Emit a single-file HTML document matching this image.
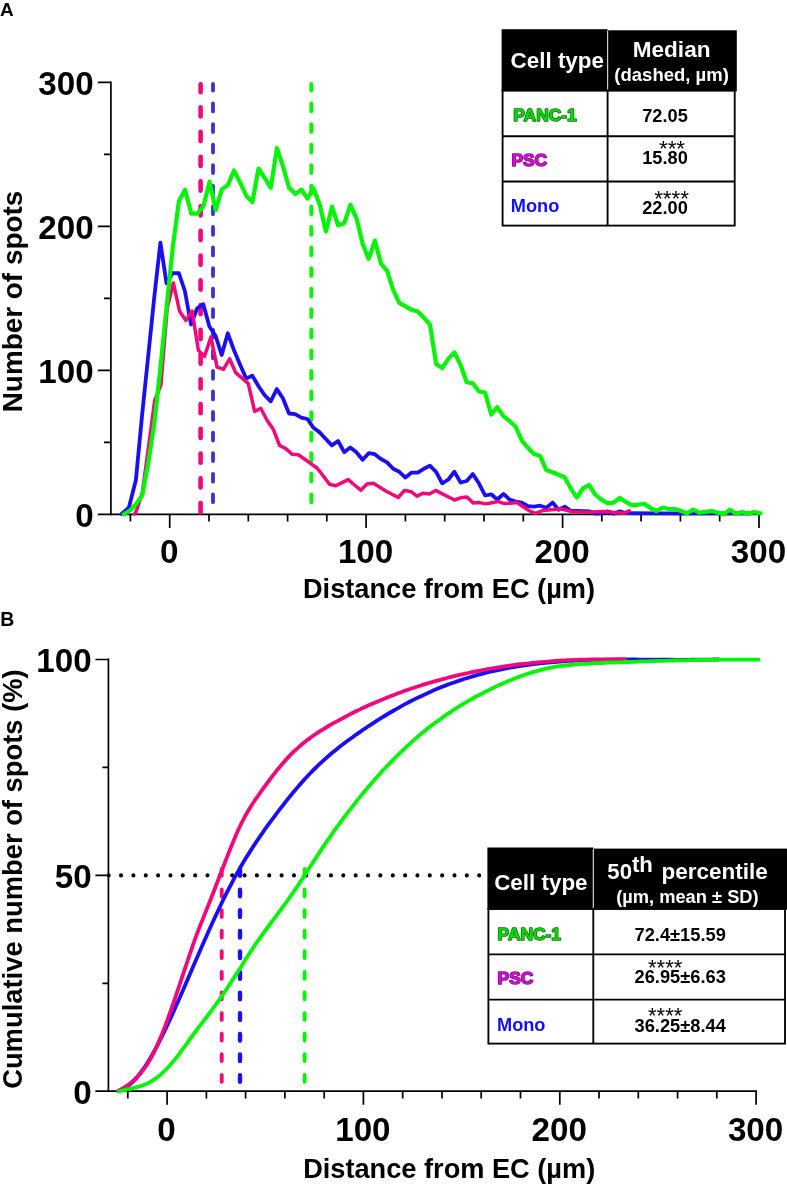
<!DOCTYPE html>
<html><head><meta charset="utf-8"><title>Figure</title>
<style>html,body{margin:0;padding:0;background:#fff}svg{display:block}text{font-family:"Liberation Sans",sans-serif;font-weight:bold;fill:#000}.r{font-weight:normal}</style></head><body>
<svg width="787" height="1185" viewBox="0 0 787 1185" style="filter:opacity(0.9999)">
<rect width="787" height="1185" fill="#fff"/>
<text x="0" y="16" font-size="19">A</text>
<g stroke="#000" stroke-width="1.7" fill="none" stroke-linecap="butt">
<path d="M110.9 81.5 V515.2"/>
<path d="M97.8 514.4 H759.8"/>
<path d="M97.8 370.4 H110.9M97.8 226.3 H110.9M97.8 82.3 H110.9M104.0 442.4 H110.9M104.0 298.4 H110.9M104.0 154.3 H110.9M169.7 514.4 V528M366.1 514.4 V528M562.6 514.4 V528M759 514.4 V528M130.4 514.4 V521.6M209 514.4 V521.6M248.3 514.4 V521.6M287.6 514.4 V521.6M326.8 514.4 V521.6M405.4 514.4 V521.6M444.7 514.4 V521.6M484 514.4 V521.6M523.3 514.4 V521.6M601.8 514.4 V521.6M641.1 514.4 V521.6M680.4 514.4 V521.6M719.7 514.4 V521.6"/>
</g>
<text x="93.7" y="526.9" font-size="33.2" text-anchor="end">0</text>
<text x="93.7" y="382.9" font-size="33.2" text-anchor="end">100</text>
<text x="93.7" y="238.8" font-size="33.2" text-anchor="end">200</text>
<text x="93.7" y="94.8" font-size="33.2" text-anchor="end">300</text>
<text x="169.2" y="562.9" font-size="33.2" text-anchor="middle">0</text>
<text x="365.6" y="562.9" font-size="33.2" text-anchor="middle">100</text>
<text x="562.1" y="562.9" font-size="33.2" text-anchor="middle">200</text>
<text x="758.5" y="562.9" font-size="33.2" text-anchor="middle">300</text>
<text x="449" y="598.3" font-size="27.2" text-anchor="middle">Distance from EC (µm)</text>
<text transform="translate(22.0 301.5) rotate(-90)" font-size="27.9" text-anchor="middle">Number of spots</text>
<path d="M200.6 84.3 V92.2M200.6 107.2 V116.4M200.6 131.9 V141.1M200.6 156.7 V165.9M200.6 181.4 V190.6M200.6 206.2 V215.4M200.6 230.9 V240.1M200.6 255.6 V264.8M200.6 280.4 V289.6M200.6 305.1 V314.3M200.6 329.9 V339.1M200.6 354.6 V363.8M200.6 379.3 V388.5M200.6 404.1 V413.3M200.6 428.8 V438M200.6 453.6 V462.8M200.6 478.3 V487.5M200.6 503 V512.2" stroke="#f2087a" stroke-width="4.6" stroke-linecap="round" fill="none"/>
<path d="M213 83.9 V90.6M213 103.5 V111.4M213 124.1 V132M213 144.6 V152.5M213 165.2 V173.1M213 185.8 V193.7M213 206.3 V214.2M213 226.9 V234.8M213 247.5 V255.4M213 268.1 V276M213 288.6 V296.5M213 309.2 V317.1M213 329.8 V337.7M213 350.3 V358.2M213 370.9 V378.8M213 391.5 V399.4M213 412 V419.9M213 432.6 V440.5M213 453.2 V461.1M213 473.8 V481.7M213 494.3 V502.2" stroke="#3a32cc" stroke-width="3.8" stroke-linecap="round" fill="none"/>
<path d="M311.3 84 V90.5M311.3 103.5 V111.3M311.3 124.1 V131.9M311.3 144.7 V152.5M311.3 165.3 V173.1M311.3 185.8 V193.6M311.3 206.4 V214.2M311.3 227 V234.8M311.3 247.5 V255.3M311.3 268.1 V275.9M311.3 288.7 V296.5M311.3 309.2 V317M311.3 329.8 V337.6M311.3 350.4 V358.2M311.3 371 V378.8M311.3 391.5 V399.3M311.3 412.1 V419.9M311.3 432.7 V440.5M311.3 453.2 V461M311.3 473.8 V481.6M311.3 494.4 V502.2" stroke="#06f506" stroke-width="3.9" stroke-linecap="round" fill="none"/>
<g fill="none" stroke-linejoin="round" stroke-linecap="round">
<path d="M121.6 513.9 L128.9 507.5 L135.9 480 L142 416 L148.1 357 L154.3 297 L160.4 242.6 L166.5 283.3 L172.6 273.1 L178.8 273.1 L184.9 291 L191 324.5 L197.2 308.3 L203.3 304.2 L209.4 326.5 L215.5 335.7 L221.7 355 L227.8 333.3 L233.9 350 L240 364.4 L246.2 378.6 L252.3 375.6 L258.4 386 L264.5 395 L270.7 401.3 L276.8 389.1 L282.9 398.3 L289 413.5 L295.2 414.1 L301.3 417.6 L307.4 419 L313.5 427.8 L319.7 432.4 L325.8 439 L331.9 445.4 L338.1 441 L344.2 452.2 L350.3 447.5 L356.4 452.2 L362.6 459.7 L368.7 453.2 L374.8 454.2 L380.9 459 L387.1 462.4 L393.2 468.8 L399.3 471.8 L405.4 477.6 L411.6 472.6 L417.7 472.6 L423.8 468.8 L429.9 465.7 L436.1 471.8 L442.2 483.3 L448.3 479.5 L454.4 471.8 L460.6 482.5 L466.7 481 L472.8 474.1 L478.9 483.3 L485.1 495.5 L491.2 494.3 L497.3 499.5 L503.5 493.9 L509.6 499.6 L515.7 501.6 L521.8 502.6 L528 506.1 L534.1 506.7 L540.2 505.7 L546.3 507.7 L552.5 502.6 L558.6 509.8 L564.7 506.7 L570.8 510.8 L577 511 L583.1 511.2 L589.2 511.4 L595.3 513.6 L601.5 513.3 L607.6 511.4 L613.7 513.6 L619.8 511.4 L626 513.2 L660 513.3 L700 513.3 L750 513.3" stroke="#1a0ef2" stroke-width="3.8"/>
<path d="M134.6 514 L135.9 512 L142.2 493.5 L148.4 448 L154.7 400.5 L160.9 385 L167.2 308 L173.4 283 L179.6 311.3 L185.9 320.4 L192.1 311 L198.4 350.5 L204.6 356.2 L210.9 337 L217.1 367.2 L223.4 369.3 L229.6 358.8 L235.8 372.9 L242.1 378.2 L248.3 383.6 L254.6 411.3 L260.8 408.3 L267.1 420.5 L273.3 429.3 L279.6 445.5 L285.8 448.6 L292.1 454.2 L298.3 454.7 L304.5 459 L310.8 463.6 L317 468 L323.3 476 L329.5 484.3 L335.8 485.7 L342 482.6 L348.3 479.6 L354.5 485 L360.8 490.2 L367 484.1 L373.2 483.3 L379.5 487 L385.7 491 L392 494.3 L398.2 497.5 L404.5 490.4 L410.7 491.4 L417 496.2 L423.2 493.2 L429.4 494 L435.7 490.4 L441.9 493.6 L448.2 496.8 L454.4 500 L460.7 497.8 L466.9 497 L473.2 503.1 L479.4 502.6 L485.6 503.9 L491.9 502.7 L498.1 501.6 L504.4 503.6 L510.6 503.2 L516.9 502.6 L523.1 506.7 L529.4 510.8 L535.6 513.3 L541.9 510.8 L548.1 510.1 L554.3 509.4 L560.6 508.7 L566.8 510.2 L573.1 511.8 L579.3 512 L585.6 512.2 L591.8 512.1 L598.1 511.8 L604.3 511.4 L610.5 512 L616.8 512.7 L623 513.3 L629.3 510.8" stroke="#f2087a" stroke-width="3.5"/>
<path d="M123.8 514.3 L130 510.5 L136.1 504 L142.2 495.5 L148.3 463 L154.5 422 L160.6 366 L166.7 306 L172.8 247 L178.9 201 L185.1 189.8 L191.2 213.6 L197.3 213.6 L203.4 206 L209.6 181.7 L215.7 210.1 L221.8 189.4 L227.9 185.1 L234 170.5 L240.2 182.7 L246.3 195.9 L252.4 202 L258.5 168.5 L264.7 178 L270.8 187.8 L276.9 148.1 L283 166.4 L289.1 187.8 L295.3 193.9 L301.4 189.8 L307.5 198.5 L313.6 188.4 L319.8 205 L325.9 231.5 L332 206.7 L338.1 225.4 L344.2 223.3 L350.4 205 L356.5 218.3 L362.6 243.7 L368.7 258.9 L374.9 240.6 L381 263.7 L387.1 270.8 L393.2 290.1 L399.3 302.9 L405.5 306.4 L411.6 309.8 L417.7 311.5 L423.8 317.6 L430 324.7 L436.1 364 L442.2 368.1 L448.3 358.9 L454.4 352.4 L460.6 365 L466.7 382.3 L472.8 383.3 L478.9 391.5 L485 392.5 L491.2 414.5 L497.3 407.2 L503.4 416.1 L509.5 421 L515.7 426.8 L521.8 440.7 L527.9 447.8 L534 453.9 L540.1 455.9 L546.3 470.1 L552.4 472.2 L558.5 474.7 L564.6 477.2 L570.8 488.5 L576.9 497.6 L583 488.4 L589.1 485 L595.2 494.5 L601.4 499.6 L607.5 503.3 L613.6 502.6 L619.7 498 L625.9 502 L632 505.3 L638.1 504.7 L644.2 503.7 L650.3 508 L656.5 511.1 L662.6 507.5 L668.7 509 L674.8 509 L681 511 L687.1 513.2 L693.2 509.6 L699.3 512.6 L705.4 511.8 L711.6 511.1 L717.7 512.8 L723.8 514.4 L729.9 509.6 L736.1 514 L742.2 512.1 L748.3 513.6 L754.4 512.1 L760.5 513.4" stroke="#06f506" stroke-width="4.2"/>
</g>
<rect x="501.6" y="29.2" width="106" height="62.2" fill="#000"/>
<rect x="607.6" y="30.3" width="129.2" height="61.1" fill="#000"/>
<path d="M607.6 30.8 V90.4" stroke="#cfcfcf" stroke-width="1.2"/>
<g stroke="#000" stroke-width="1.85" fill="none">
<rect x="502.6" y="90.4" width="232.1" height="135.2"/>
<path d="M607.6 90.4 V225.6 M502.6 136.2 H734.7 M502.6 181.5 H734.7"/>
</g>
<g fill="#fff">
<text x="510.6" y="67.8" font-size="22.4" style="fill:#fff">Cell type</text>
<text x="671.6" y="57.1" font-size="22.6" text-anchor="middle" style="fill:#fff">Median</text>
<text x="671.6" y="80.8" font-size="18.5" text-anchor="middle" style="fill:#fff">(dashed, µm)</text>
</g>
<text x="513.3" y="121.3" font-size="17.4" style="fill:#08dc08;stroke:#0a6a0a;stroke-width:1.5;stroke-linejoin:round;paint-order:stroke">PANC-1</text>
<text x="511.4" y="166" font-size="17.4" style="fill:#dc08dc;stroke:#701070;stroke-width:1.5;stroke-linejoin:round;paint-order:stroke">PSC</text>
<text x="510.8" y="212.0" font-size="18.2" style="fill:#1010ff">Mono</text>
<text x="665" y="121.6" font-size="18.2" text-anchor="middle">72.05</text>
<text x="665" y="164.3" font-size="18.2" text-anchor="middle">15.80</text>
<text x="665" y="214.2" font-size="18.2" text-anchor="middle">22.00</text>
<text class="r" x="672.0" y="156.3" font-size="22.4" text-anchor="middle">***</text>
<text class="r" x="671.6" y="205.6" font-size="22.4" text-anchor="middle">****</text>
<text x="0.2" y="626" font-size="19.5">B</text>
<g stroke="#000" stroke-width="1.7" fill="none">
<path d="M108.4 658.6 V1092"/>
<path d="M95.4 1091.2 H756.9"/>
<path d="M95.4 875.4 H108.4M95.4 659.5 H108.4M102.4 983.3 H108.4M102.4 767.4 H108.4M167.1 1091.2 V1104.8M363.4 1091.2 V1104.8M559.8 1091.2 V1104.8M756.1 1091.2 V1104.8M127.8 1091.2 V1098.4M206.4 1091.2 V1098.4M245.6 1091.2 V1098.4M284.9 1091.2 V1098.4M324.2 1091.2 V1098.4M402.7 1091.2 V1098.4M442 1091.2 V1098.4M481.2 1091.2 V1098.4M520.5 1091.2 V1098.4M599 1091.2 V1098.4M638.3 1091.2 V1098.4M677.6 1091.2 V1098.4M716.8 1091.2 V1098.4"/>
</g>
<text x="91.6" y="1103.7" font-size="33.2" text-anchor="end">0</text>
<text x="91.6" y="887.9" font-size="33.2" text-anchor="end">50</text>
<text x="91.6" y="672" font-size="33.2" text-anchor="end">100</text>
<text x="166.6" y="1140.6" font-size="33.2" text-anchor="middle">0</text>
<text x="362.9" y="1140.6" font-size="33.2" text-anchor="middle">100</text>
<text x="559.3" y="1140.6" font-size="33.2" text-anchor="middle">200</text>
<text x="755.6" y="1140.6" font-size="33.2" text-anchor="middle">300</text>
<text x="449.2" y="1177.6" font-size="27.2" text-anchor="middle">Distance from EC (µm)</text>
<text transform="translate(22.1 879.1) rotate(-90)" font-size="27.36" text-anchor="middle">Cumulative number of spots (%)</text>
<path d="M108.7 875.4 H482" stroke="#000" stroke-width="4.1" stroke-linecap="round" stroke-dasharray="0 12.35" fill="none"/>
<path d="M221.7 868.9 V875.7M221.7 889.5 V896.3M221.7 910.1 V916.9M221.7 930.6 V937.5M221.7 951.2 V958.1M221.7 971.9 V978.7M221.7 992.5 V999.3M221.7 1013.1 V1019.9M221.7 1033.7 V1040.5M221.7 1054.2 V1061.1M221.7 1074.9 V1081.8" stroke="#f2087a" stroke-width="3.9" stroke-linecap="round" fill="none"/>
<path d="M240 869.1 V875.7M240 889.7 V896.3M240 910.3 V916.9M240 930.9 V937.5M240 951.5 V958.1M240 972.1 V978.7M240 992.7 V999.3M240 1013.3 V1019.9M240 1033.9 V1040.5M240 1054.5 V1061.1M240 1075.1 V1081.7" stroke="#1a0ef2" stroke-width="4.4" stroke-linecap="round" fill="none"/>
<path d="M304.6 868.9 V875.7M304.6 889.5 V896.3M304.6 910.1 V916.9M304.6 930.6 V937.5M304.6 951.2 V958.1M304.6 971.9 V978.7M304.6 992.5 V999.3M304.6 1013.1 V1019.9M304.6 1033.7 V1040.5M304.6 1054.2 V1061.1M304.6 1074.9 V1081.8" stroke="#06f506" stroke-width="3.9" stroke-linecap="round" fill="none"/>
<g fill="none" stroke-linejoin="round" stroke-linecap="round" stroke-width="3.8">
<path d="M118.3 1091 C119.3 1090.6 122.3 1089.6 124.3 1088.5 C126.3 1087.3 128.3 1085.9 130.3 1084.1 C132.3 1082.4 134.3 1080.3 136.3 1078.1 C138.3 1075.8 140.3 1073.2 142.3 1070.4 C144.3 1067.7 146.3 1064.6 148.3 1061.4 C150.3 1058.2 152.3 1054.7 154.3 1051.1 C156.3 1047.4 158.3 1043.6 160.3 1039.6 C162.4 1035.6 164.4 1031.5 166.4 1027.3 C168.4 1023 170.4 1018.6 172.4 1014.2 C174.4 1009.8 176.4 1005.2 178.4 1000.7 C180.4 996.1 182.4 991.5 184.4 986.9 C186.4 982.3 188.4 977.6 190.4 973 C192.4 968.3 194.4 963.7 196.4 959.1 C198.4 954.5 200.4 949.8 202.4 945.3 C204.4 940.7 206.4 936.2 208.4 931.7 C210.4 927.3 212.4 922.8 214.4 918.5 C216.4 914.2 218.4 909.9 220.4 905.7 C222.4 901.5 224.4 897.4 226.4 893.4 C228.4 889.5 230.4 885.6 232.4 881.8 C234.4 878.1 236.4 874.4 238.4 870.9 C240.4 867.4 242.4 863.9 244.4 860.6 C246.4 857.2 248.5 854 250.5 850.9 C252.5 847.7 254.5 844.6 256.5 841.6 C258.5 838.6 260.5 835.7 262.5 832.8 C264.5 829.9 266.5 827.1 268.5 824.4 C270.5 821.6 272.5 818.9 274.5 816.3 C276.5 813.6 278.5 811 280.5 808.4 C282.5 805.8 284.5 803.3 286.5 800.7 C288.5 798.2 290.5 795.8 292.5 793.3 C294.5 790.9 296.5 788.5 298.5 786.2 C300.5 783.9 302.5 781.6 304.5 779.4 C306.5 777.2 308.5 775.1 310.5 773 C312.5 770.9 314.5 768.9 316.5 767 C318.5 765 320.5 763.1 322.5 761.3 C324.5 759.5 326.5 757.7 328.5 756 C330.5 754.2 332.5 752.6 334.6 750.9 C336.6 749.3 338.6 747.7 340.6 746.1 C342.6 744.6 344.6 743.1 346.6 741.6 C348.6 740.1 350.6 738.6 352.6 737.2 C354.6 735.8 356.6 734.3 358.6 732.9 C360.6 731.5 362.6 730.2 364.6 728.8 C366.6 727.5 368.6 726.1 370.6 724.8 C372.6 723.5 374.6 722.2 376.6 720.9 C378.6 719.6 380.6 718.4 382.6 717.2 C384.6 715.9 386.6 714.7 388.6 713.5 C390.6 712.3 392.6 711.2 394.6 710 C396.6 708.9 398.6 707.7 400.6 706.6 C402.6 705.5 404.6 704.4 406.6 703.4 C408.6 702.3 410.6 701.3 412.6 700.3 C414.6 699.2 416.6 698.2 418.7 697.3 C420.7 696.3 422.7 695.3 424.7 694.4 C426.7 693.5 428.7 692.6 430.7 691.7 C432.7 690.8 434.7 689.9 436.7 689.1 C438.7 688.3 440.7 687.4 442.7 686.6 C444.7 685.9 446.7 685.1 448.7 684.3 C450.7 683.6 452.7 682.9 454.7 682.2 C456.7 681.5 458.7 680.8 460.7 680.1 C462.7 679.4 464.7 678.8 466.7 678.2 C468.7 677.6 470.7 677 472.7 676.4 C474.7 675.8 476.7 675.2 478.7 674.7 C480.7 674.2 482.7 673.6 484.7 673.1 C486.7 672.6 488.7 672.1 490.7 671.7 C492.7 671.2 494.7 670.7 496.7 670.3 C498.7 669.9 500.7 669.5 502.7 669.1 C504.8 668.7 506.8 668.3 508.8 667.9 C510.8 667.5 512.8 667.2 514.8 666.8 C516.8 666.5 518.8 666.2 520.8 665.9 C522.8 665.6 524.8 665.3 526.8 665 C528.8 664.7 530.8 664.5 532.8 664.2 C534.8 663.9 536.8 663.7 538.8 663.5 C540.8 663.3 542.8 663 544.8 662.8 C546.8 662.6 548.8 662.4 550.8 662.3 C552.8 662.1 554.8 661.9 556.8 661.8 C558.8 661.6 560.8 661.4 562.8 661.3 C564.8 661.2 566.8 661 568.8 660.9 C570.8 660.8 572.8 660.7 574.8 660.6 C576.8 660.5 578.8 660.4 580.8 660.3 C582.8 660.2 584.8 660.2 586.8 660.1 C588.8 660 590.9 660 592.9 659.9 C594.9 659.9 596.9 659.8 598.9 659.8 C600.9 659.7 602.9 659.7 604.9 659.7 C606.9 659.6 608.9 659.6 610.9 659.6 C612.9 659.6 614.9 659.5 616.9 659.5 C618.9 659.5 620.9 659.5 622.9 659.5 C624.9 659.5 626.9 659.5 628.9 659.5 C630.9 659.5 632.9 659.5 634.9 659.5 C636.9 659.5 638.9 659.5 640.9 659.6 C642.9 659.6 644.9 659.6 646.9 659.6 C648.9 659.6 650.9 659.6 652.9 659.6 C654.9 659.6 656.9 659.7 658.9 659.7 C660.9 659.7 662.9 659.7 664.9 659.7 C666.9 659.7 668.9 659.7 670.9 659.7 C672.9 659.8 674.9 659.8 677 659.8 C679 659.8 681 659.8 683 659.8 C685 659.8 687 659.8 689 659.8 C691 659.8 693 659.7 695 659.7 C697 659.7 699 659.7 701 659.7 C703 659.6 705 659.6 707 659.6 C709 659.5 711 659.5 713 659.5 C715 659.4 718 659.3 719 659.3" stroke="#1a0ef2"/>
<path d="M118.3 1091 C119.3 1090.4 122.3 1088.7 124.3 1087.4 C126.3 1086.1 128.4 1084.8 130.4 1083.2 C132.4 1081.6 134.4 1079.8 136.4 1077.8 C138.4 1075.8 140.4 1073.5 142.4 1070.9 C144.4 1068.3 146.4 1065.5 148.5 1062.2 C150.5 1058.9 152.5 1055.2 154.5 1051.1 C156.5 1047 158.5 1042.5 160.5 1037.7 C162.5 1032.9 164.5 1027.7 166.6 1022.3 C168.6 1016.9 170.6 1011.2 172.6 1005.5 C174.6 999.7 176.6 993.7 178.6 987.7 C180.6 981.7 182.6 975.5 184.7 969.5 C186.7 963.5 188.7 957.4 190.7 951.6 C192.7 945.8 194.7 940.1 196.7 934.7 C198.7 929.3 200.7 924.2 202.8 919.1 C204.8 914 206.8 909.1 208.8 904.1 C210.8 899 212.8 894 214.8 888.8 C216.8 883.6 218.8 878.3 220.8 873.1 C222.9 867.9 224.9 862.6 226.9 857.4 C228.9 852.3 230.9 847.2 232.9 842.4 C234.9 837.5 236.9 832.8 238.9 828.5 C241 824.1 243 820.1 245 816.3 C247 812.6 249 809.4 251 806.2 C253 803 255 800.2 257 797.3 C259.1 794.3 261.1 791.5 263.1 788.7 C265.1 785.9 267.1 783.2 269.1 780.5 C271.1 777.8 273.1 775.2 275.1 772.6 C277.1 770.1 279.2 767.6 281.2 765.3 C283.2 762.9 285.2 760.6 287.2 758.4 C289.2 756.3 291.2 754.2 293.2 752.2 C295.2 750.3 297.3 748.4 299.3 746.6 C301.3 744.9 303.3 743.2 305.3 741.6 C307.3 740 309.3 738.5 311.3 737.1 C313.3 735.6 315.3 734.3 317.4 732.9 C319.4 731.6 321.4 730.3 323.4 729.1 C325.4 727.9 327.4 726.7 329.4 725.5 C331.4 724.4 333.4 723.2 335.5 722.1 C337.5 721 339.5 719.9 341.5 718.8 C343.5 717.7 345.5 716.7 347.5 715.6 C349.5 714.6 351.5 713.5 353.6 712.5 C355.6 711.5 357.6 710.6 359.6 709.6 C361.6 708.6 363.6 707.7 365.6 706.8 C367.6 705.8 369.6 704.9 371.6 704 C373.7 703.2 375.7 702.3 377.7 701.4 C379.7 700.6 381.7 699.7 383.7 698.9 C385.7 698.1 387.7 697.3 389.7 696.5 C391.8 695.7 393.8 694.9 395.8 694.2 C397.8 693.4 399.8 692.7 401.8 692 C403.8 691.2 405.8 690.5 407.8 689.8 C409.9 689.1 411.9 688.4 413.9 687.8 C415.9 687.1 417.9 686.5 419.9 685.8 C421.9 685.2 423.9 684.6 425.9 683.9 C427.9 683.3 430 682.7 432 682.1 C434 681.6 436 681 438 680.4 C440 679.9 442 679.3 444 678.8 C446 678.3 448.1 677.7 450.1 677.2 C452.1 676.7 454.1 676.2 456.1 675.7 C458.1 675.3 460.1 674.8 462.1 674.3 C464.1 673.9 466.2 673.4 468.2 673 C470.2 672.5 472.2 672.1 474.2 671.7 C476.2 671.3 478.2 670.9 480.2 670.5 C482.2 670.1 484.2 669.7 486.3 669.4 C488.3 669 490.3 668.7 492.3 668.3 C494.3 668 496.3 667.6 498.3 667.3 C500.3 667 502.3 666.7 504.4 666.4 C506.4 666.1 508.4 665.8 510.4 665.5 C512.4 665.2 514.4 665 516.4 664.7 C518.4 664.4 520.4 664.2 522.5 664 C524.5 663.7 526.5 663.5 528.5 663.3 C530.5 663.1 532.5 662.8 534.5 662.7 C536.5 662.5 538.5 662.3 540.5 662.1 C542.6 661.9 544.6 661.7 546.6 661.6 C548.6 661.4 550.6 661.3 552.6 661.1 C554.6 661 556.6 660.8 558.6 660.7 C560.7 660.6 562.7 660.5 564.7 660.4 C566.7 660.3 568.7 660.2 570.7 660.1 C572.7 660 574.7 659.9 576.7 659.8 C578.8 659.7 580.8 659.7 582.8 659.6 C584.8 659.6 586.8 659.5 588.8 659.5 C590.8 659.4 592.8 659.4 594.8 659.4 C596.8 659.3 598.9 659.3 600.9 659.3 C602.9 659.3 604.9 659.3 606.9 659.3 C608.9 659.3 610.9 659.3 612.9 659.3 C614.9 659.3 617 659.4 619 659.4 C621 659.4 624 659.5 625 659.5" stroke="#f2087a"/>
<path d="M119 1091.3 C120 1091.1 123 1090.4 125 1089.9 C127 1089.5 129.1 1089.1 131.1 1088.6 C133.1 1088.2 135.1 1087.7 137.1 1087.2 C139.1 1086.6 141.1 1086 143.1 1085.3 C145.1 1084.5 147.2 1083.6 149.2 1082.6 C151.2 1081.5 153.2 1080.3 155.2 1078.9 C157.2 1077.5 159.2 1075.9 161.2 1074.1 C163.2 1072.3 165.3 1070.3 167.3 1068.2 C169.3 1066.1 171.3 1063.8 173.3 1061.4 C175.3 1059 177.3 1056.4 179.3 1053.8 C181.3 1051.1 183.4 1048.3 185.4 1045.6 C187.4 1042.8 189.4 1040 191.4 1037.2 C193.4 1034.4 195.4 1031.7 197.4 1029 C199.4 1026.3 201.5 1023.7 203.5 1021.1 C205.5 1018.5 207.5 1015.9 209.5 1013.2 C211.5 1010.5 213.5 1007.8 215.5 1005 C217.5 1002.2 219.6 999.4 221.6 996.4 C223.6 993.5 225.6 990.6 227.6 987.5 C229.6 984.5 231.6 981.4 233.6 978.3 C235.6 975.2 237.6 972 239.7 968.9 C241.7 965.7 243.7 962.4 245.7 959.3 C247.7 956.1 249.7 953 251.7 950 C253.7 947 255.7 944 257.8 941.1 C259.8 938.3 261.8 935.5 263.8 932.7 C265.8 929.9 267.8 927.2 269.8 924.5 C271.8 921.8 273.8 919.1 275.9 916.4 C277.9 913.7 279.9 911 281.9 908.2 C283.9 905.5 285.9 902.8 287.9 900 C289.9 897.1 291.9 894.3 294 891.4 C296 888.4 298 885.4 300 882.4 C302 879.4 304 876.3 306 873.2 C308 870.1 310 866.9 312.1 863.8 C314.1 860.7 316.1 857.6 318.1 854.5 C320.1 851.4 322.1 848.4 324.1 845.4 C326.1 842.4 328.1 839.5 330.2 836.6 C332.2 833.7 334.2 830.8 336.2 828.1 C338.2 825.3 340.2 822.5 342.2 819.8 C344.2 817.1 346.2 814.5 348.3 811.8 C350.3 809.2 352.3 806.6 354.3 804.1 C356.3 801.5 358.3 799 360.3 796.6 C362.3 794.1 364.3 791.7 366.4 789.3 C368.4 786.9 370.4 784.6 372.4 782.2 C374.4 779.9 376.4 777.7 378.4 775.4 C380.4 773.2 382.4 771 384.5 768.8 C386.5 766.7 388.5 764.6 390.5 762.5 C392.5 760.4 394.5 758.4 396.5 756.4 C398.5 754.4 400.5 752.4 402.6 750.5 C404.6 748.6 406.6 746.7 408.6 744.8 C410.6 743 412.6 741.2 414.6 739.4 C416.6 737.7 418.6 735.9 420.7 734.3 C422.7 732.6 424.7 730.9 426.7 729.3 C428.7 727.7 430.7 726.1 432.7 724.6 C434.7 723.1 436.7 721.6 438.8 720.1 C440.8 718.7 442.8 717.2 444.8 715.8 C446.8 714.4 448.8 713.1 450.8 711.8 C452.8 710.4 454.8 709.1 456.8 707.9 C458.9 706.6 460.9 705.4 462.9 704.2 C464.9 703 466.9 701.8 468.9 700.6 C470.9 699.5 472.9 698.3 474.9 697.2 C477 696.1 479 695.1 481 694 C483 693 485 691.9 487 690.9 C489 689.9 491 688.9 493 688 C495.1 687 497.1 686.1 499.1 685.1 C501.1 684.2 503.1 683.3 505.1 682.4 C507.1 681.6 509.1 680.7 511.1 679.9 C513.2 679 515.2 678.2 517.2 677.5 C519.2 676.7 521.2 676 523.2 675.2 C525.2 674.5 527.2 673.8 529.2 673.2 C531.3 672.6 533.3 671.9 535.3 671.4 C537.3 670.8 539.3 670.3 541.3 669.8 C543.3 669.3 545.3 668.8 547.3 668.4 C549.4 668 551.4 667.6 553.4 667.2 C555.4 666.9 557.4 666.5 559.4 666.2 C561.4 666 563.4 665.7 565.4 665.4 C567.5 665.2 569.5 665 571.5 664.8 C573.5 664.6 575.5 664.4 577.5 664.3 C579.5 664.1 581.5 664 583.5 663.9 C585.6 663.7 587.6 663.6 589.6 663.5 C591.6 663.4 593.6 663.3 595.6 663.2 C597.6 663.1 599.6 663.1 601.6 663 C603.7 662.9 605.7 662.8 607.7 662.7 C609.7 662.7 611.7 662.6 613.7 662.5 C615.7 662.4 617.7 662.3 619.7 662.3 C621.8 662.2 623.8 662.1 625.8 662 C627.8 662 629.8 661.9 631.8 661.8 C633.8 661.8 635.8 661.7 637.8 661.6 C639.9 661.5 641.9 661.5 643.9 661.4 C645.9 661.3 647.9 661.3 649.9 661.2 C651.9 661.2 653.9 661.1 655.9 661 C657.9 661 660 660.9 662 660.9 C664 660.8 666 660.7 668 660.7 C670 660.6 672 660.6 674 660.5 C676 660.5 678.1 660.4 680.1 660.4 C682.1 660.3 684.1 660.3 686.1 660.3 C688.1 660.2 690.1 660.2 692.1 660.1 C694.1 660.1 696.2 660.1 698.2 660 C700.2 660 702.2 660 704.2 659.9 C706.2 659.9 708.2 659.9 710.2 659.8 C712.2 659.8 714.3 659.8 716.3 659.8 C718.3 659.7 720.3 659.7 722.3 659.7 C724.3 659.7 726.3 659.7 728.3 659.7 C730.3 659.7 732.4 659.6 734.4 659.6 C736.4 659.6 738.4 659.6 740.4 659.6 C742.4 659.6 744.4 659.6 746.4 659.6 C748.4 659.6 750.5 659.6 752.5 659.7 C754.5 659.7 757.5 659.7 758.5 659.7" stroke="#06f506"/>
</g>
<rect x="487.4" y="847.5" width="105.9" height="62.3" fill="#000"/>
<rect x="593.3" y="848.6" width="194.2" height="61.2" fill="#000"/>
<path d="M593.3 849.1 V908.8" stroke="#cfcfcf" stroke-width="1.2"/>
<g stroke="#000" stroke-width="1.85" fill="none">
<rect x="488.4" y="908.8" width="296.6" height="134.8"/>
<path d="M593.3 908.8 V1043.6 M488.4 954.3 H785 M488.4 999.6 H785"/>
</g>
<text x="494.2" y="890.1" font-size="22.4" style="fill:#fff">Cell type</text>
<text x="607.3" y="879.4" font-size="22.2" style="fill:#fff">50<tspan dy="-7.6">th</tspan></text>
<text x="661.4" y="879.4" font-size="22.5" style="fill:#fff">percentile</text>
<text x="687.4" y="902.8" font-size="18.3" text-anchor="middle" style="fill:#fff">(µm, mean ± SD)</text>
<text x="497.6" y="940.4" font-size="17.4" style="fill:#08dc08;stroke:#0a6a0a;stroke-width:1.5;stroke-linejoin:round;paint-order:stroke">PANC-1</text>
<text x="497.6" y="984.3" font-size="17.4" style="fill:#dc08dc;stroke:#701070;stroke-width:1.5;stroke-linejoin:round;paint-order:stroke">PSC</text>
<text x="497.0" y="1030.5" font-size="18.2" style="fill:#1010ff">Mono</text>
<text x="680.2" y="940.5" font-size="18.3" text-anchor="middle">72.4±15.59</text>
<text x="680.2" y="983.4" font-size="18.3" text-anchor="middle">26.95±6.63</text>
<text x="680.2" y="1032.3" font-size="18.3" text-anchor="middle">36.25±8.44</text>
<text class="r" x="665.2" y="974.8" font-size="22" text-anchor="middle">****</text>
<text class="r" x="665.2" y="1022.9" font-size="22" text-anchor="middle">****</text>
</svg></body></html>
